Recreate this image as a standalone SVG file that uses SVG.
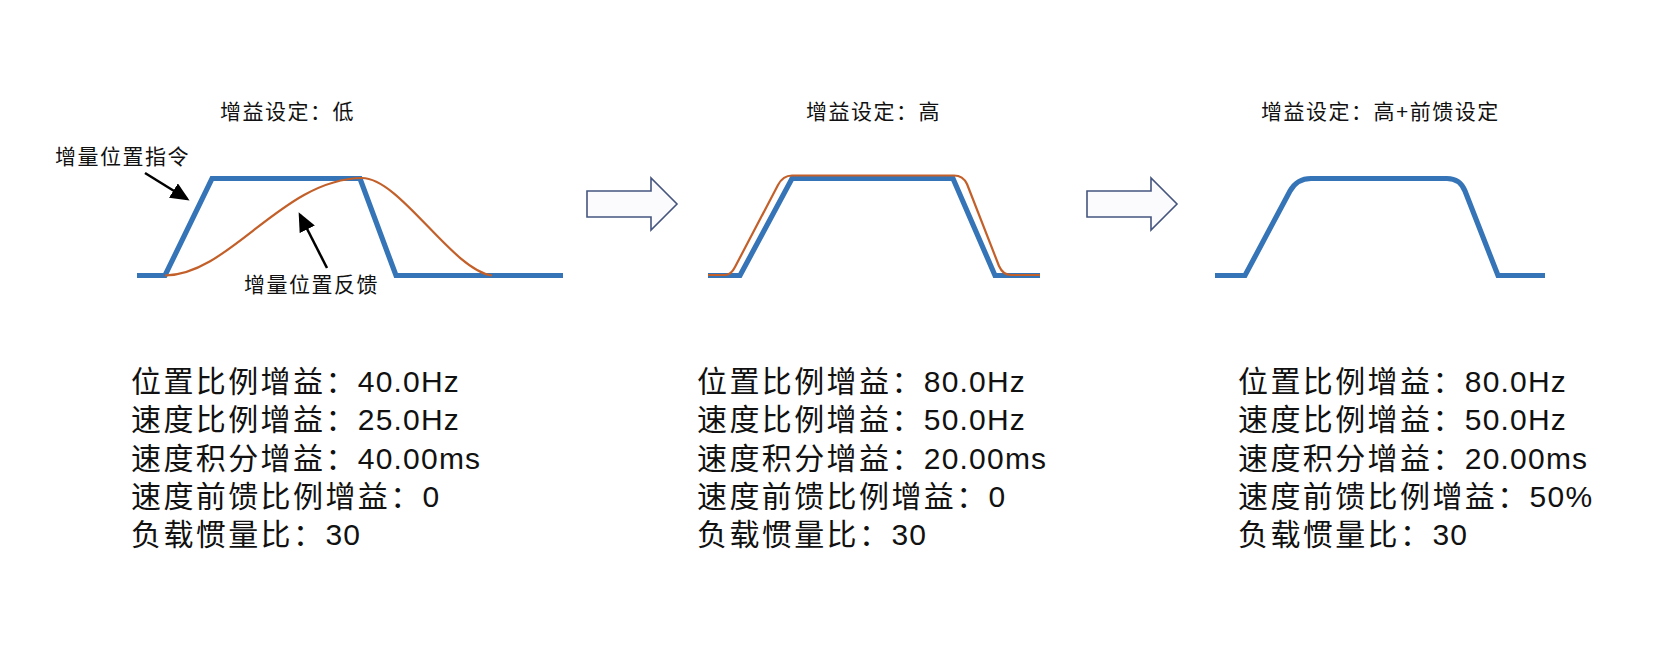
<svg xmlns="http://www.w3.org/2000/svg" width="1680" height="651" viewBox="0 0 1680 651">
<defs>
<style>
.bg{fill:#ffffff}
.small{font-family:"Liberation Sans","Noto Sans CJK SC",sans-serif;font-size:21px;letter-spacing:1.5px;fill:#111}
.body{font-family:"Liberation Sans","Noto Sans CJK SC",sans-serif;font-size:30px;letter-spacing:2.4px;fill:#111}
.n{letter-spacing:1.2px}
.cmd{fill:none;stroke:#3574b7;stroke-width:5.2;stroke-linejoin:miter}
.fb{fill:none;stroke:#c3602a;stroke-width:2.2;stroke-linejoin:round}
.ann{fill:none;stroke:#000;stroke-width:2.5}
.blk{fill:#fbfbfd;stroke:#45557f;stroke-width:1.6;stroke-linejoin:miter}
</style>
<marker id="ah" viewBox="0 0 19 17" refX="16" refY="8.5" markerWidth="19" markerHeight="17" markerUnits="userSpaceOnUse" orient="auto">
<path d="M0,0 L19,8.5 L0,17 z" fill="#000"/>
</marker>
</defs>
<rect class="bg" x="0" y="0" width="1680" height="651"/>

<g id="panel-low">
<text class="small" x="220" y="118.5">增益设定：低</text>
<text class="small" x="55" y="163.5">增量位置指令</text>
<text class="small" x="244" y="291.5">增量位置反馈</text>
<path class="cmd" d="M137,275.5 L165,275.5 L212,178.5 L360,178.5 L396,275.5 L563,275.5"/>
<path class="fb" d="M165,275.5 C230,275 282,179 362,178 C400,178 452,270 492,275.5"/>
<g class="body">
<text x="131" y="392">位置比例增益：<tspan class="n">40.0Hz</tspan></text>
<text x="131" y="430.3">速度比例增益：<tspan class="n">25.0Hz</tspan></text>
<text x="131" y="468.6">速度积分增益：<tspan class="n">40.00ms</tspan></text>
<text x="131" y="507">速度前馈比例增益：<tspan class="n">0</tspan></text>
<text x="131" y="545.2">负载惯量比：<tspan class="n">30</tspan></text>
</g>
</g>

<g id="panel-high">
<text class="small" x="806" y="118.5">增益设定：高</text>
<path class="cmd" d="M708,275.5 L740,275.5 L792,178.5 L953,178.5 L995,275.5 L1040,275.5"/>
<path class="fb" d="M708,275 L725,275 Q731,275 735,267 L778,185 Q783,175.5 792,175.5 L954,175.5 Q963,175.5 967,184 L999,266 Q1003,275 1011,275 L1040,275"/>
<g class="body">
<text x="697" y="392">位置比例增益：<tspan class="n">80.0Hz</tspan></text>
<text x="697" y="430.3">速度比例增益：<tspan class="n">50.0Hz</tspan></text>
<text x="697" y="468.6">速度积分增益：<tspan class="n">20.00ms</tspan></text>
<text x="697" y="507">速度前馈比例增益：<tspan class="n">0</tspan></text>
<text x="697" y="545.2">负载惯量比：<tspan class="n">30</tspan></text>
</g>
</g>

<g id="panel-feedforward">
<text class="small" x="1261" y="118.5">增益设定：高+前馈设定</text>
<path class="cmd" d="M1215,275.5 L1245,275.5 L1290,191 Q1297,178.5 1311,178.5 L1447,178.5 Q1460,178.5 1465,191 L1498,275.5 L1545,275.5"/>
<g class="body">
<text x="1238" y="392">位置比例增益：<tspan class="n">80.0Hz</tspan></text>
<text x="1238" y="430.3">速度比例增益：<tspan class="n">50.0Hz</tspan></text>
<text x="1238" y="468.6">速度积分增益：<tspan class="n">20.00ms</tspan></text>
<text x="1238" y="507">速度前馈比例增益：<tspan class="n">50%</tspan></text>
<text x="1238" y="545.2">负载惯量比：<tspan class="n">30</tspan></text>
</g>
</g>

<g id="connectors">
<polygon class="blk" points="587,191 651,191 651,178 677,204 651,230 651,217 587,217"/>
<polygon class="blk" points="1087,191 1151,191 1151,178 1177,204 1151,230 1151,217 1087,217"/>
<line class="ann" x1="145" y1="173" x2="187" y2="199" marker-end="url(#ah)"/>
<line class="ann" x1="327" y1="268" x2="300" y2="215" marker-end="url(#ah)"/>
</g>
</svg>
